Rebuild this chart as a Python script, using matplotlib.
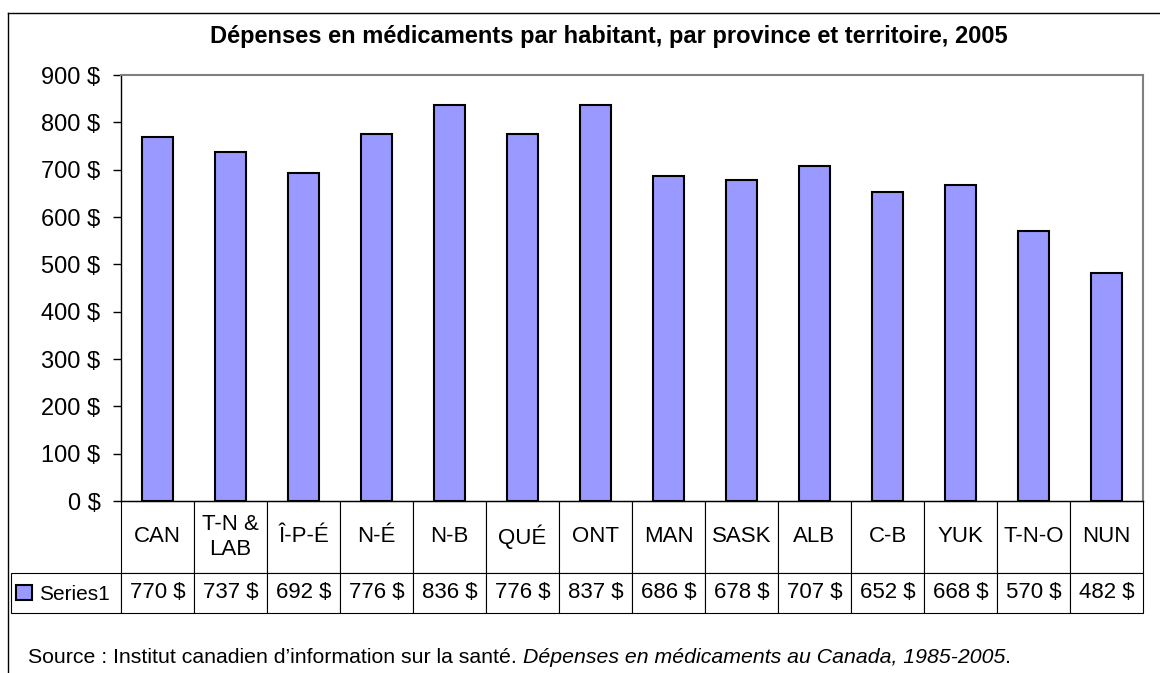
import matplotlib
matplotlib.use("Agg")
import matplotlib.pyplot as plt
from matplotlib.lines import Line2D
from matplotlib.ticker import FuncFormatter

plt.rcParams["font.family"] = ["Liberation Sans", "DejaVu Sans"]

categories = ["CAN", "T-N &\nLAB", "Î-P-É", "N-É", "N-B", "QUÉ", "ONT",
              "MAN", "SASK", "ALB", "C-B", "YUK", "T-N-O", "NUN"]
spending = [770, 737, 692, 776, 836, 776, 837, 686, 678, 707, 652, 668, 570, 482]
series_name = "Series1"
y_ticks = [0, 100, 200, 300, 400, 500, 600, 700, 800, 900]

W, H = 1160, 673
BAR_COLOR = "#9999FF"

fig = plt.figure(figsize=(W / 100, H / 100), dpi=100)

# plot area in pixels: left 121, right 1143, top 75, bottom 501
px_l, px_r, px_t, px_b = 121, 1143, 75, 501
ax = fig.add_axes([px_l / W, 1 - px_b / H, (px_r - px_l) / W, (px_b - px_t) / H])

x = list(range(len(spending)))
bars = ax.bar(x, spending, width=0.42, color=BAR_COLOR, edgecolor="black",
              linewidth=1.5, label=series_name)
ax.set_xlim(-0.5, len(spending) - 0.5)
ax.set_ylim(0, 900)
ax.set_yticks(y_ticks)
ax.yaxis.set_major_formatter(FuncFormatter(lambda v, _: f"{v:.0f} $"))
ax.tick_params(axis="y", length=5.8, width=1, pad=9, labelsize=17, direction="out")
ax.tick_params(axis="x", bottom=False, labelbottom=False)
for side in ("top", "right"):
    ax.spines[side].set_color("#808080")
    ax.spines[side].set_linewidth(1.5)
ax.spines["left"].set_linewidth(1)
ax.spines["bottom"].set_linewidth(1)

# data table below the plot (bbox covers the category columns only)
plot_w = px_r - px_l
plot_h = px_b - px_t
legend_w = px_l - 11
cat_h, val_h = 72, 40
tbl = ax.table(
    cellText=[[f"{v} $" for v in spending]],
    colLabels=categories,
    cellLoc="center",
    colWidths=[1 / len(spending)] * len(spending),
    bbox=[0, -(cat_h + val_h) / plot_h, 1, (cat_h + val_h) / plot_h],
)
# legend cell on the left of the value row
tbl.add_cell(1, -1, width=legend_w / plot_w, height=val_h, text="")
tbl.auto_set_font_size(False)
tbl.set_fontsize(16)
for (r, c), cell in tbl.get_celld().items():
    cell.set_edgecolor("black")
    cell.set_linewidth(0.8)
    cell.set_height(cat_h if r == 0 else val_h)
    cell.get_text().set_linespacing(1.3)

ax.legend(handles=[bars], labels=[series_name], loc="center left",
          bbox_to_anchor=(16 / W, 1 - 594 / H), bbox_transform=fig.transFigure,
          frameon=False, fontsize=15, handlelength=0.75, handleheight=0.75,
          handletextpad=0.35, borderpad=0, borderaxespad=0)

fig.text(609 / W, 1 - 43.5 / H,
         "Dépenses en médicaments par habitant, par province et territoire, 2005",
         ha="center", va="baseline", fontsize=17, fontweight="bold")

# source line: regular + italic + regular
t1 = fig.text(28 / W, 1 - 667 / H,
              "Source : Institut canadien d’information sur la santé. ",
              ha="left", va="bottom", fontsize=15.3)
t2 = ax.annotate("Dépenses en médicaments au Canada, 1985-2005",
                 xy=(1, 0), xycoords=t1, ha="left", va="bottom",
                 fontsize=15.3, style="italic", annotation_clip=False)
ax.annotate(".", xy=(1, 0), xycoords=t2, ha="left", va="bottom",
            fontsize=15.3, annotation_clip=False)

# outer chart frame (left and top edges visible)
fig.add_artist(Line2D([8 / W, 8 / W], [0, 1 - 13 / H], color="black", linewidth=1))
fig.add_artist(Line2D([8 / W, 1], [1 - 13 / H, 1 - 13 / H], color="black", linewidth=1))

fig.savefig("out.png", dpi=100)
